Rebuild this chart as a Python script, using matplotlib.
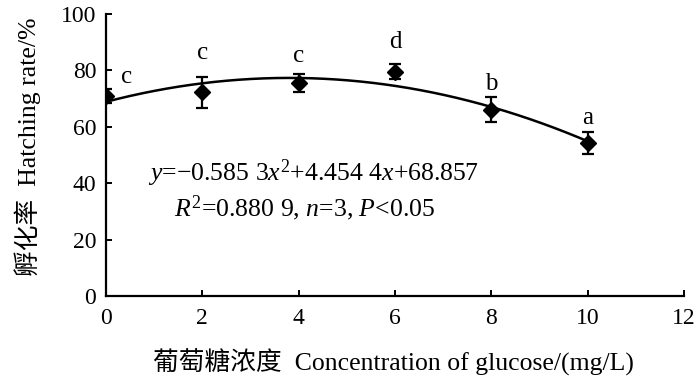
import numpy as np
import matplotlib
matplotlib.use("Agg")
import matplotlib.pyplot as plt

plt.rcParams['font.family'] = ['Liberation Serif', 'Noto Sans CJK SC']
plt.rcParams['mathtext.fontset'] = 'custom'
plt.rcParams['mathtext.rm'] = 'Liberation Serif'
plt.rcParams['mathtext.it'] = 'Liberation Serif:italic'

conc = [0, 2, 4, 6, 8, 10]
rate = [71.0, 72.3, 75.4, 79.5, 66.0, 54.3]
err = [2.5, 5.5, 3.2, 2.7, 4.4, 3.8]
letters = ['c', 'c', 'c', 'd', 'b', 'a']
letter_x = [0.42, 2, 4, 6, 8, 10]
letter_y = [77.5, 86, 85, 90, 75, 63]
coef = [-0.5853, 4.4544, 68.857]

W, H = 700, 388
fig = plt.figure(figsize=(7, 3.88), dpi=100)
ax = fig.add_axes([106 / W, 1 - 296 / H, 578 / W, 282 / H])

xs = np.linspace(0, 10, 200)
ax.plot(xs, np.polyval(coef, xs), color='black', lw=1.8, zorder=2)
ax.errorbar(conc, rate, yerr=err, fmt='D', color='black', ms=8,
            ecolor='black', elinewidth=1.6, capsize=4, capthick=1.6, zorder=3)
for x, y, t in zip(letter_x, letter_y, letters):
    ax.text(x, y, t, ha='center', va='center', fontsize=18)

ax.text(0.88, 43.5, r'$y$=−0.585 3$x^2$+4.454 4$x$+68.857', fontsize=18.5,
        ha='left', va='center')
ax.text(1.42, 31, r'$R^2$=0.880 9, $n$=3, $P$<0.05', fontsize=18.5,
        ha='left', va='center')

ax.set_xlim(0, 12)
ax.set_ylim(0, 100)
ax.set_xticks(range(0, 13, 2))
ax.set_yticks(range(0, 101, 20))
for s in ['top', 'right']:
    ax.spines[s].set_visible(False)
for s in ['left', 'bottom']:
    ax.spines[s].set_linewidth(1.6)
ax.tick_params(direction='in', length=4, width=1.4, labelsize=17)
ax.tick_params(axis='x', pad=9)
ax.tick_params(axis='y', pad=7)

fig.text(393.5 / W, 1 - 362 / H, '葡萄糖浓度  Concentration of glucose/(mg/L)',
         fontsize=18.5, ha='center', va='center')
fig.text(28 / W, 1 - 147 / H, '孵化率  Hatching rate/%', fontsize=18.5,
         rotation=90, ha='center', va='center')

fig.savefig('out.png', dpi=100)
